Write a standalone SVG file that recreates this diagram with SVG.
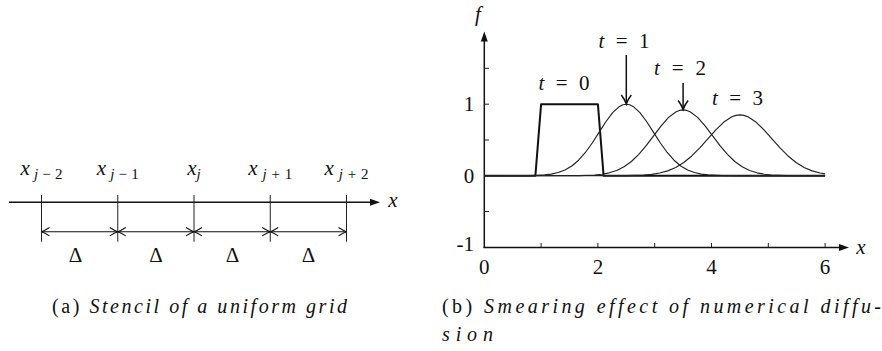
<svg xmlns="http://www.w3.org/2000/svg" width="882" height="351" viewBox="0 0 882 351">
<style>
.ax{stroke:#111;stroke-width:1.5;fill:none}
.tk{stroke:#222;stroke-width:1;fill:none}
.dim{stroke:#111;stroke-width:1.1;fill:none;stroke-linejoin:round}
.thick{stroke:#111;stroke-width:2;fill:none;stroke-linejoin:round}
.g{stroke:#222;stroke-width:1.15;fill:none;stroke-linejoin:round}
.ah{fill:#111;stroke:none}
.t{font-family:'Liberation Serif','Times New Roman','DejaVu Serif',serif;font-size:21px;fill:#111}
.cap{font-family:'Liberation Serif','Times New Roman','DejaVu Serif',serif;font-size:20px;fill:#111}
.it{font-style:italic}
.sub{font-size:15px}
</style>
<rect width="882" height="351" fill="#fff"/>

<!-- (a) Stencil -->
<g id="stencil">
  <g id="grid-axis">
    <line class="ax" x1="9" y1="202.3" x2="372" y2="202.3"/>
    <polygon class="ah" points="380,202.3 370,198.8 370,205.8"/>
    <text class="t it" x="393" y="206.5" text-anchor="middle">x</text>
  </g>
  <g id="grid-ticks">
    <line class="tk" x1="41.5" y1="195" x2="41.5" y2="241.7"/>
    <line class="tk" x1="117.75" y1="195" x2="117.75" y2="241.7"/>
    <line class="tk" x1="194" y1="195" x2="194" y2="241.7"/>
    <line class="tk" x1="270.25" y1="195" x2="270.25" y2="241.7"/>
    <line class="tk" x1="346.5" y1="195" x2="346.5" y2="241.7"/>
  </g>
  <g id="grid-labels">
    <text class="t" x="41.5" y="175" text-anchor="middle" textLength="42" font-size="22"><tspan class="it">x</tspan><tspan class="sub" dy="4"><tspan class="it">j</tspan>−2</tspan></text>
    <text class="t" x="117.75" y="175" text-anchor="middle" textLength="42" font-size="22"><tspan class="it">x</tspan><tspan class="sub" dy="4"><tspan class="it">j</tspan>−1</tspan></text>
    <text class="t" x="194" y="175" text-anchor="middle" font-size="22"><tspan class="it">x</tspan><tspan class="sub it" dy="4">j</tspan></text>
    <text class="t" x="270.25" y="175" text-anchor="middle" textLength="44" font-size="22"><tspan class="it">x</tspan><tspan class="sub" dy="4"><tspan class="it">j</tspan>+1</tspan></text>
    <text class="t" x="346.5" y="175" text-anchor="middle" textLength="44" font-size="22"><tspan class="it">x</tspan><tspan class="sub" dy="4"><tspan class="it">j</tspan>+2</tspan></text>
  </g>
  <g id="spacing-dims">
    <line class="dim" x1="41.5" y1="231.7" x2="346.5" y2="231.7"/>
    <path class="dim" d="M49.5,227.5 Q44.5,230.7 41.5,231.7 Q44.5,232.7 49.5,235.9"/>
    <path class="dim" d="M109.75,227.5 Q114.75,230.7 117.75,231.7 Q114.75,232.7 109.75,235.9"/>
    <path class="dim" d="M125.75,227.5 Q120.75,230.7 117.75,231.7 Q120.75,232.7 125.75,235.9"/>
    <path class="dim" d="M186,227.5 Q191,230.7 194,231.7 Q191,232.7 186,235.9"/>
    <path class="dim" d="M202,227.5 Q197,230.7 194,231.7 Q197,232.7 202,235.9"/>
    <path class="dim" d="M262.25,227.5 Q267.25,230.7 270.25,231.7 Q267.25,232.7 262.25,235.9"/>
    <path class="dim" d="M278.25,227.5 Q273.25,230.7 270.25,231.7 Q273.25,232.7 278.25,235.9"/>
    <path class="dim" d="M338.5,227.5 Q343.5,230.7 346.5,231.7 Q343.5,232.7 338.5,235.9"/>
    <text class="t" x="75.5" y="262" text-anchor="middle">Δ</text>
    <text class="t" x="156" y="262" text-anchor="middle">Δ</text>
    <text class="t" x="232.5" y="262" text-anchor="middle">Δ</text>
    <text class="t" x="308.5" y="262" text-anchor="middle">Δ</text>
  </g>
  <text id="caption-a" class="cap" x="52" y="313" textLength="295" lengthAdjust="spacing">(a) <tspan class="it">Stencil of a uniform grid</tspan></text>
</g>

<!-- (b) Smearing -->
<g id="smearing">
  <g id="plot-axes">
    <line class="ax" x1="484.3" y1="248" x2="484.3" y2="40"/>
    <polygon class="ah" points="484.3,31.5 480.8,41.5 487.8,41.5"/>
    <line class="ax" x1="483.5" y1="247.5" x2="840" y2="247.5"/>
    <polygon class="ah" points="849,247.5 839,244 839,251"/>
    <path class="tk" d="M484.3,68.3 H489 M484.3,104.2 H489 M484.3,140 H489 M484.3,211.5 H489"/>
    <path class="tk" d="M541.1,247.5 V243 M597.9,247.5 V243 M654.7,247.5 V243 M711.5,247.5 V243 M768.3,247.5 V243 M825.1,247.5 V243"/>
    <text class="t it" x="478" y="21" text-anchor="middle">f</text>
    <text class="t it" x="861" y="254" text-anchor="middle">x</text>
    <text class="t" x="469" y="111" text-anchor="middle">1</text>
    <text class="t" x="469" y="182.5" text-anchor="middle">0</text>
    <text class="t" x="474" y="251" text-anchor="end">-1</text>
    <text class="t" x="484.3" y="274" text-anchor="middle">0</text>
    <text class="t" x="597.9" y="274" text-anchor="middle">2</text>
    <text class="t" x="711.5" y="274" text-anchor="middle">4</text>
    <text class="t" x="825.1" y="274" text-anchor="middle">6</text>
  </g>
  <g id="curve-t0">
    <polyline class="thick" points="484.3,175.7 535.4,175.7 541.1,104.2 597.9,104.2 603.6,175.7 825.1,175.7"/>
    <text class="t" x="564" y="90" text-anchor="middle" textLength="51"><tspan class="it">t</tspan> = 0</text>
  </g>
  <g id="curve-t1">
    <polyline class="g" points="484.3,175.7 517.26,175.68 530.89,175.54 544.52,174.91 551.33,174.07 558.15,172.56 564.96,170.01 571.78,166.03 578.59,160.23 585.41,152.48 592.22,142.97 599.04,132.34 605.85,121.73 612.67,112.6 619.48,106.4 622.89,104.76 626.3,104.2 629.71,104.76 633.12,106.4 639.93,112.6 646.75,121.73 653.56,132.34 660.38,142.97 667.19,152.48 674.01,160.23 680.82,166.03 687.64,170.01 694.45,172.56 701.27,174.07 708.08,174.91 721.71,175.54 735.34,175.68 825.1,175.7"/>
    <text class="t" x="624" y="48" text-anchor="middle" textLength="51"><tspan class="it">t</tspan> = 1</text>
  </g>
  <g id="curve-t2">
    <polyline class="g" points="484.3,175.7 564.94,175.68 579.71,175.56 594.48,174.97 601.87,174.2 609.25,172.81 616.64,170.46 624.02,166.8 631.41,161.47 638.79,154.34 646.18,145.59 653.56,135.8 660.95,126.05 668.33,117.65 675.72,111.95 679.41,110.43 683.1,109.92 686.79,110.43 690.48,111.95 697.87,117.65 705.25,126.05 712.64,135.8 720.02,145.59 727.41,154.34 734.79,161.47 742.18,166.8 749.56,170.46 756.95,172.81 764.33,174.2 771.72,174.97 786.49,175.56 801.26,175.68 825.1,175.7"/>
    <text class="t" x="680" y="75" text-anchor="middle" textLength="52"><tspan class="it">t</tspan> = 2</text>
  </g>
  <g id="curve-t3">
    <polyline class="g" points="484.3,175.7 627.58,175.57 643.63,175.03 651.65,174.31 659.67,173.03 667.7,170.86 675.72,167.48 683.74,162.55 691.76,155.96 699.79,147.87 707.81,138.84 715.83,129.82 723.85,122.06 731.88,116.79 735.89,115.39 739.9,114.92 743.91,115.39 747.92,116.79 755.95,122.06 763.97,129.82 771.99,138.84 780.01,147.87 788.04,155.96 796.06,162.55 804.08,167.48 812.1,170.86 820.13,173.03 825.1,173.9"/>
    <text class="t" x="737.5" y="105" text-anchor="middle" textLength="51"><tspan class="it">t</tspan> = 3</text>
  </g>
  <g id="connectors">
    <line class="ax" x1="626.3" y1="55" x2="626.3" y2="103"/>
    <path class="ax" d="M621.3,95 Q624.8,99.5 626.3,104 Q627.8,99.5 631.3,95"/>
    <line class="ax" x1="683.1" y1="83" x2="683.1" y2="108.5"/>
    <path class="ax" d="M678.1,100.5 Q681.6,105 683.1,109.5 Q684.6,105 688.1,100.5"/>
  </g>
  <text id="caption-b1" class="cap" x="442" y="313" textLength="439" lengthAdjust="spacing">(b) <tspan class="it">Smearing effect of numerical diffu-</tspan></text>
  <text id="caption-b2" class="cap it" x="442" y="341" textLength="51" lengthAdjust="spacing">sion</text>
</g>
</svg>
